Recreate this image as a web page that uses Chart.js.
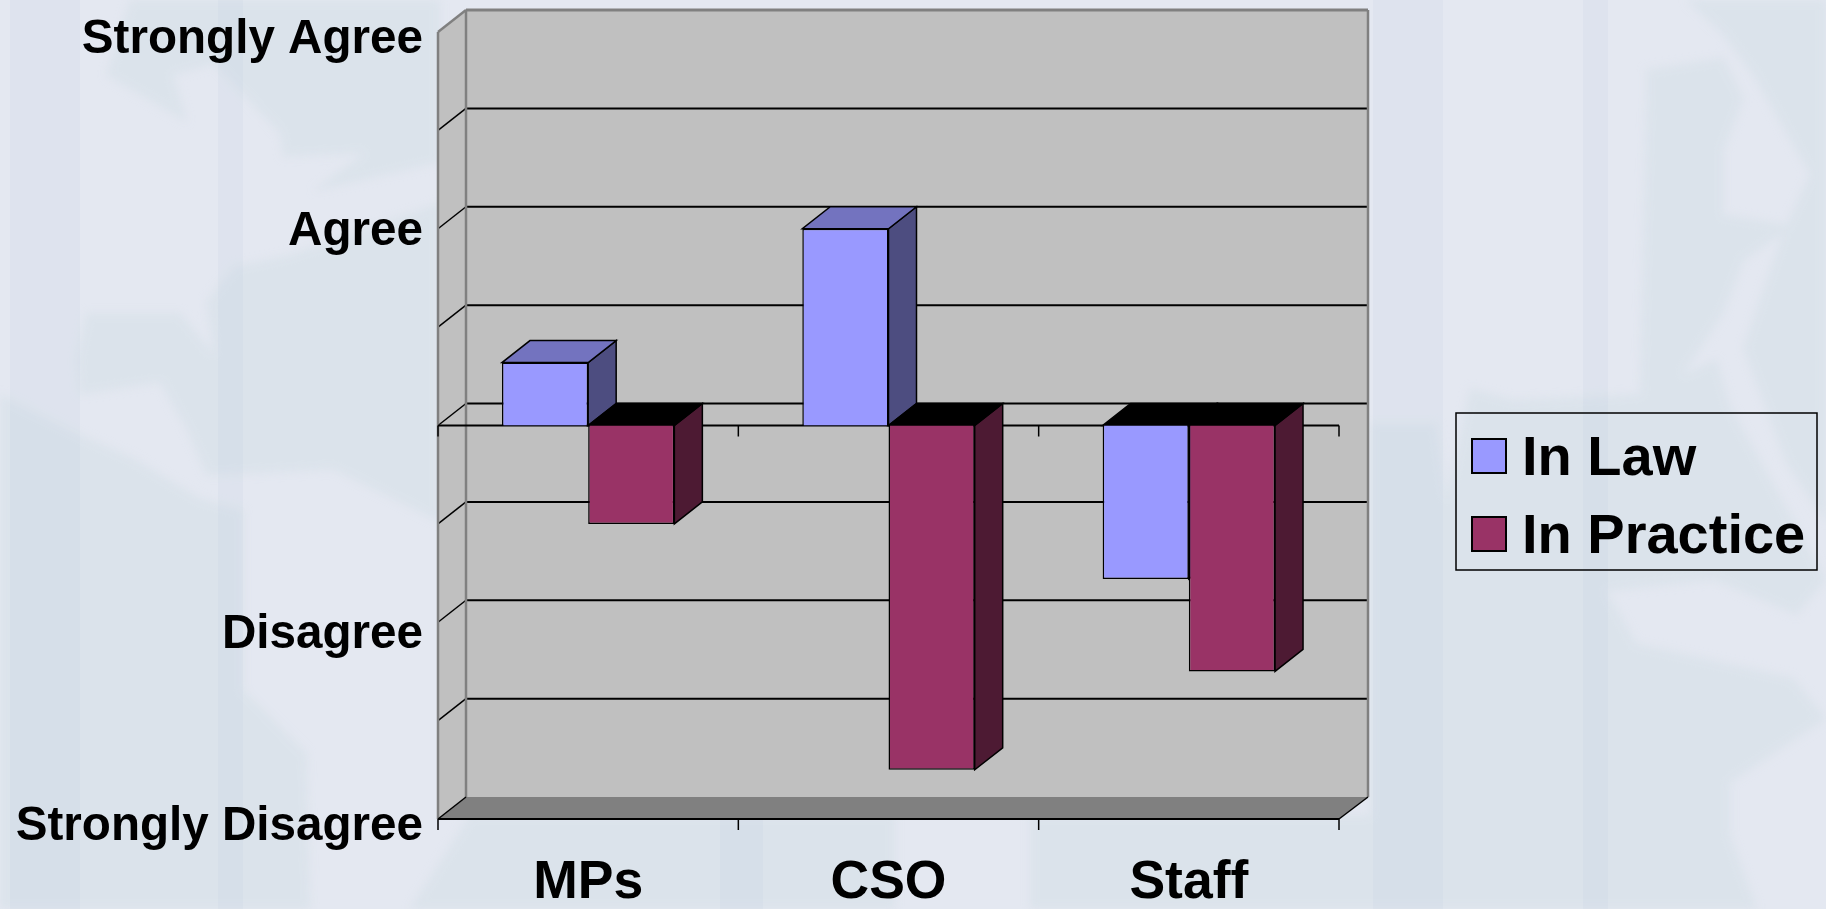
<!DOCTYPE html>
<html>
<head>
<meta charset="utf-8">
<title>In Law vs In Practice</title>
<script src="https://cdn.jsdelivr.net/npm/chart.js@4"></script>
<style>
html, body { margin: 0; padding: 0; width: 1826px; height: 909px; overflow: hidden; background: #e4e8f1; }
#map { position: absolute; left: 0; top: 0; }
canvas { display: block; position: absolute; left: 0; top: 0; }
</style>
</head>
<body>
<!-- pale world map behind the slide -->
<svg id="map" width="1826" height="909" xmlns="http://www.w3.org/2000/svg">
  <defs><filter id="soft"><feGaussianBlur stdDeviation="4"/></filter></defs>
  <g fill="#dbe3eb" filter="url(#soft)">
    <g transform="scale(0.3333 0.5797)">
      <polygon points="390,0 320,130 560,210 520,130 640,110 840,230 850,270 1090,265 940,330 1320,280 1320,0"/>
      <polygon points="620,520 700,460 870,440 1320,350 1320,900 1000,810 620,820 560,740 480,660 240,680 230,620 260,540 540,540 640,610"/>
      <polygon points="0,680 240,750 400,790 600,860 730,880 730,1190 920,1300 930,1568 0,1568"/>
    </g>
    <polygon points="470,815 895,815 895,909 410,909"/>
    <polygon points="1030,815 1400,815 1400,909 1030,909"/>
    <g transform="translate(1370 0) scale(0.3333 0.5797)">
      <polygon points="950,0 1368,0 1368,900 1250,800 1120,600 1240,400 1320,300 1150,130 1060,60"/>
      <polygon points="830,120 1060,100 1120,170 1060,260 1060,370 1270,390 1120,450 1060,540 900,680 810,680 830,160"/>
      <polygon points="0,730 200,730 230,860 300,670 430,690 800,680 1040,620 1080,700 1368,1000 1280,1060 1030,1000 710,1020 800,1110 1270,1170 1368,1240 1080,1350 1080,1440 1160,1568 0,1568"/>
    </g>
  </g>
  <g fill="#bfd0df" fill-opacity="0.16">
    <rect x="10" y="0" width="70" height="909"/>
    <rect x="218" y="0" width="25" height="909"/>
    <rect x="720" y="815" width="43" height="94"/>
    <rect x="1373" y="0" width="70" height="909"/>
    <rect x="1583" y="0" width="25" height="909"/>
  </g>
</svg>
<canvas id="myChart" width="1826" height="909"></canvas>
<script>
var categories = ['MPs', 'CSO', 'Staff'];
var inLaw = [0.32, 1.0, -0.78];
var inPractice = [-0.5, -1.75, -1.25];
var yTickValues = [1.96, 0.983, -1.065, -2.04];
var yTickLabels = ['Strongly Agree', 'Agree', 'Disagree', 'Strongly Disagree'];
var gridValues = [2, 1.5, 1, 0.5, 0, -0.5, -1, -1.5, -2];

var depthX = 28, depthY = 22;
var fontName = '"Liberation Sans", Arial, sans-serif';

function poly(ctx, pts, fill, stroke, width) {
    ctx.beginPath();
    ctx.moveTo(pts[0][0], pts[0][1]);
    for (var i = 1; i < pts.length; i++) ctx.lineTo(pts[i][0], pts[i][1]);
    ctx.closePath();
    if (fill) { ctx.fillStyle = fill; ctx.fill(); }
    if (stroke) { ctx.strokeStyle = stroke; ctx.lineWidth = width || 1; ctx.stroke(); }
}

function line(ctx, x1, y1, x2, y2, color, width) {
    ctx.beginPath();
    ctx.moveTo(x1, y1);
    ctx.lineTo(x2, y2);
    ctx.strokeStyle = color;
    ctx.lineWidth = width;
    ctx.stroke();
}

// back wall, side wall, floor, gridlines and the depth faces of the bars
var box3d = {
    id: 'box3d',
    beforeDatasetsDraw: function (chart) {
        var ctx = chart.ctx, a = chart.chartArea, y = chart.scales.y;
        ctx.save();
        poly(ctx, [[a.left + depthX, a.top - depthY], [a.right + depthX + 1, a.top - depthY],
                   [a.right + depthX + 1, a.bottom - depthY], [a.left + depthX, a.bottom - depthY]], '#c0c0c0');
        poly(ctx, [[a.left, a.top], [a.left + depthX, a.top - depthY],
                   [a.left + depthX, a.bottom - depthY], [a.left, a.bottom]], '#c0c0c0');
        gridValues.forEach(function (v) {
            var py = y.getPixelForValue(v);
            if (v === 2 || v === -2) return;
            line(ctx, a.left, py, a.left + depthX, py - depthY, '#000', 1.5);
            line(ctx, a.left + depthX, py - depthY, a.right + depthX + 1, py - depthY, '#000', 2);
        });
        poly(ctx, [[a.left, a.bottom], [a.right, a.bottom], [a.right + depthX + 1, a.bottom - depthY],
                   [a.left + depthX, a.bottom - depthY]], '#808080');
        line(ctx, a.left, a.top, a.left + depthX, a.top - depthY, '#808080', 2.5);
        line(ctx, a.left, a.top, a.left, a.bottom, '#808080', 2.5);
        line(ctx, a.left + depthX, a.top - depthY, a.right + depthX + 1, a.top - depthY, '#808080', 3);
        line(ctx, a.left + depthX, a.top - depthY, a.left + depthX, a.bottom - depthY, '#808080', 2.5);
        line(ctx, a.right + depthX + 1, a.top - depthY, a.right + depthX + 1, a.bottom - depthY, '#808080', 2.5);
        line(ctx, a.left, a.bottom, a.left + depthX, a.bottom - depthY, '#000', 1.5);
        line(ctx, a.right, a.bottom, a.right + depthX + 1, a.bottom - depthY, '#000', 1.5);

        // zero axis and bottom axis, with category ticks
        var zero = y.getPixelForValue(0);
        line(ctx, a.left, zero, a.right, zero, '#000', 2);
        line(ctx, a.left, a.bottom, a.right, a.bottom, '#000', 2);
        for (var i = 0; i <= categories.length; i++) {
            var tx = a.left + (a.right - a.left) * i / categories.length;
            line(ctx, tx, zero, tx, zero + 11, '#000', 1.5);
            line(ctx, tx, a.bottom, tx, a.bottom + 11, '#000', 1.5);
        }

        chart.data.datasets.forEach(function (ds, d) {
            chart.getDatasetMeta(d).data.forEach(function (bar) {
                var x1 = bar.x - bar.width / 2, x2 = bar.x + bar.width / 2;
                var y1 = Math.min(bar.y, bar.base), y2 = Math.max(bar.y, bar.base);
                poly(ctx, [[x2, y1], [x2 + depthX, y1 - depthY], [x2 + depthX, y2 - depthY], [x2, y2]],
                     ds.sideColor, '#000', 1.5);
                var isUp = bar.y < bar.base;
                poly(ctx, [[x1, y1], [x2, y1], [x2 + depthX, y1 - depthY], [x1 + depthX, y1 - depthY]],
                     isUp ? ds.topColor : '#000', '#000', 1.5);
            });
        });
        ctx.restore();
    },
    afterDraw: function (chart) {
        // legend box
        var ctx = chart.ctx;
        ctx.save();
        ctx.strokeStyle = '#000';
        ctx.lineWidth = 1.5;
        ctx.strokeRect(1456, 413, 361, 157);
        ctx.font = 'bold 56px ' + fontName;
        ctx.textBaseline = 'middle';
        chart.data.datasets.forEach(function (ds, d) {
            var top = 439 + d * 78;
            ctx.fillStyle = ds.backgroundColor;
            ctx.fillRect(1472, top, 34, 34);
            ctx.lineWidth = 2;
            ctx.strokeRect(1472, top, 34, 34);
            ctx.fillStyle = '#000';
            ctx.fillText(ds.label, 1522, top + 21);
        });
        ctx.restore();
    }
};

var ctx = document.getElementById('myChart').getContext('2d');
var myChart = new Chart(ctx, {
    type: 'bar',
    data: {
        labels: categories,
        datasets: [{
            label: 'In Law',
            data: inLaw,
            backgroundColor: '#9999ff',
            sideColor: '#4d4d80',
            topColor: '#7373bf',
            borderColor: '#000',
            borderWidth: 1.5
        }, {
            label: 'In Practice',
            data: inPractice,
            backgroundColor: '#993366',
            sideColor: '#4d1a33',
            topColor: '#000',
            borderColor: '#000',
            borderWidth: 1.5
        }]
    },
    options: {
        responsive: false,
        animation: false,
        layout: { padding: { top: 32, right: 487, bottom: 0, left: 0 } },
        plugins: { legend: { display: false }, tooltip: { enabled: false } },
        datasets: { bar: { categoryPercentage: 0.574, barPercentage: 1 } },
        scales: {
            x: {
                grid: { display: false },
                border: { display: false },
                ticks: { color: '#000', font: { family: fontName, size: 53.5, weight: 'bold' }, padding: 24, maxRotation: 0 },
                afterFit: function (s) { s.height = 90; s.paddingLeft = 0; s.paddingRight = 0; }
            },
            y: {
                min: -2,
                max: 2,
                grid: { display: false },
                border: { display: false },
                afterBuildTicks: function (s) { s.ticks = yTickValues.map(function (v) { return { value: v }; }); },
                ticks: {
                    color: '#000',
                    autoSkip: false,
                    font: { family: fontName, size: 47.6, weight: 'bold' },
                    padding: 7,
                    callback: function (v, i) { return yTickLabels[i]; }
                },
                afterFit: function (s) { s.width = 438; s.paddingTop = 0; s.paddingBottom = 0; }
            }
        }
    },
    plugins: [box3d]
});
</script>
</body>
</html>
